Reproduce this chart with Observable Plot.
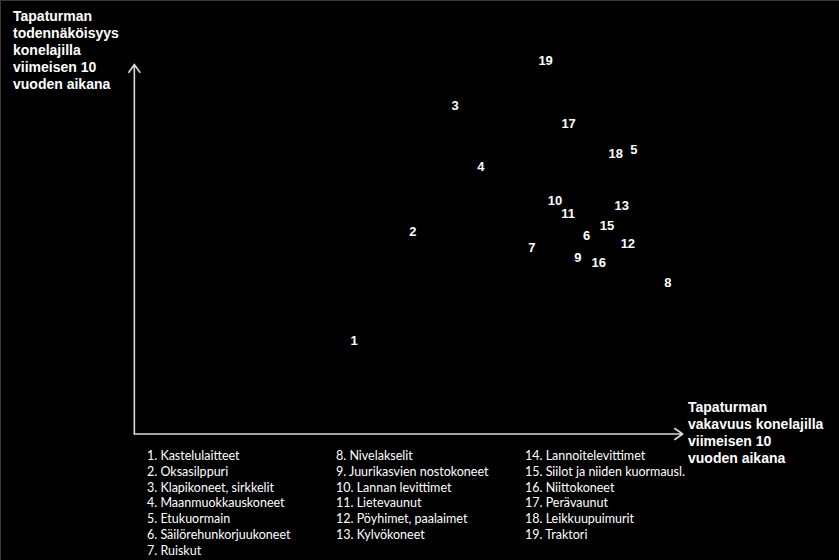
<!DOCTYPE html>
<html>
<head>
<meta charset="utf-8">
<script src="https://cdn.jsdelivr.net/npm/d3@7"></script>
<script src="https://cdn.jsdelivr.net/npm/@observablehq/plot@0.6"></script>
<style>
  html, body { margin: 0; padding: 0; background: #000; }
  #wrap { position: relative; width: 839px; height: 560px; background: #000; overflow: hidden; box-sizing: border-box; border-top: 1px solid #3a3a3a; border-left: 1px solid #3a3a3a; }
  #chart { position: absolute; left: 0; top: 0; }
  .title { position: absolute; color: #fff; font-family: "Liberation Sans", Arial, sans-serif; font-weight: bold; font-size: 14px; line-height: 17px; white-space: nowrap; }
  .legcol { position: absolute; color: #fff; font-family: Lato, "Open Sans", sans-serif; font-size: 12.5px; line-height: 15.8px; white-space: nowrap; }
</style>
</head>
<body>
<div id="wrap">
  <div id="chart"></div>
  <div class="title" id="ytitle" style="left:12px; top:7px;"></div>
  <div class="title" id="xtitle" style="left:687px; top:398px;"></div>
  <div class="legcol" id="leg1" style="left:146px; top:447px;"></div>
  <div class="legcol" id="leg2" style="left:335px; top:447px;"></div>
  <div class="legcol" id="leg3" style="left:524px; top:447px;"></div>
</div>
<script>
// Machine types (legend)
const ids = [1,2,3,4,5,6,7,8,9,10,11,12,13,14,15,16,17,18,19];
const names = [
  "Kastelulaitteet", "Oksasilppuri", "Klapikoneet, sirkkelit", "Maanmuokkauskoneet",
  "Etukuormain", "Säilörehunkorjuukoneet", "Ruiskut", "Nivelakselit",
  "Juurikasvien nostokoneet", "Lannan levittimet", "Lietevaunut", "Pöyhimet, paalaimet",
  "Kylvökoneet", "Lannoitelevittimet", "Siilot ja niiden kuormausl.", "Niittokoneet",
  "Perävaunut", "Leikkuupuimurit", "Traktori"
];
// Plotted points (no point for 14)
const pointIds   = [1, 2, 3, 4, 5, 6, 7, 8, 9, 10, 11, 12, 13, 15, 16, 17, 18, 19];
const severity   = [40.1, 50.8, 58.5, 63.2, 91.1, 82.5, 72.5, 97.3, 80.9, 76.7, 79.1, 90.0, 88.9, 86.2, 84.7, 79.2, 87.8, 75.0];
const probability= [25.1, 54.6, 88.9, 72.4, 77.0, 53.5, 50.3, 40.8, 47.6, 63.2, 59.5, 51.4, 61.6, 56.2, 46.2, 83.8, 75.7, 101.1];

const yTitleLines = ["Tapaturman", "todennäköisyys", "konelajilla", "viimeisen 10", "vuoden aikana"];
const xTitleLines = ["Tapaturman", "vakavuus konelajilla", "viimeisen 10", "vuoden aikana"];

const xDomain = [0, 100];
const yDomain = [0, 100];

const points = pointIds.map((id, i) => ({id, x: severity[i], y: probability[i]}));
const axes = [
  {x1: xDomain[0], y1: yDomain[0], x2: xDomain[0], y2: yDomain[1]},
  {x1: xDomain[0], y1: yDomain[0], x2: xDomain[1], y2: yDomain[0]}
];

const chart = Plot.plot({
  width: 839,
  height: 560,
  marginLeft: 133,
  marginRight: 157,
  marginTop: 63,
  marginBottom: 127,
  style: {background: "transparent"},
  x: {domain: xDomain, axis: null},
  y: {domain: yDomain, axis: null},
  marks: [
    Plot.arrow(axes, {x1: "x1", y1: "y1", x2: "x2", y2: "y2", stroke: "#d9d9d9", strokeWidth: 1.6, headLength: 9, headAngle: 70, insetStart: 0, insetEnd: 0}),
    Plot.text(points, {x: "x", y: "y", text: d => String(d.id), fill: "#fff", fontWeight: "bold", fontSize: 13, fontFamily: "Liberation Sans, Arial, sans-serif"})
  ]
});
document.getElementById("chart").appendChild(chart);

document.getElementById("ytitle").innerHTML = yTitleLines.join("<br>");
document.getElementById("xtitle").innerHTML = xTitleLines.join("<br>");

const item = i => `${ids[i]}. ${names[i]}`;
const cols = [[0,7],[7,13],[13,19]];
cols.forEach(([a,b], c) => {
  const lines = [];
  for (let i = a; i < b; i++) lines.push(item(i));
  document.getElementById("leg" + (c+1)).innerHTML = lines.join("<br>");
});
</script>
</body>
</html>
